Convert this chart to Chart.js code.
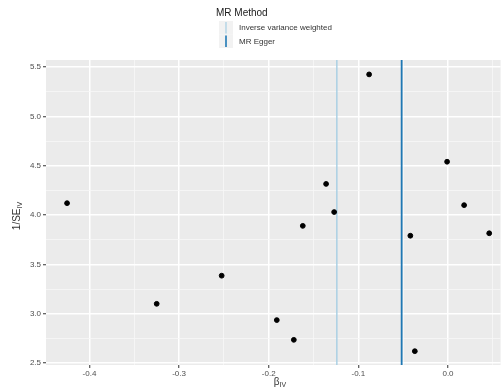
<!DOCTYPE html>
<html><head><meta charset="utf-8">
<script src="https://cdn.jsdelivr.net/npm/chart.js@4/dist/chart.umd.min.js"></script>
<style>html,body{margin:0;padding:0;background:#fff;}#wrap{width:504px;height:390px;}</style>
</head><body><div id="wrap"><canvas id="c" width="504" height="390"></canvas></div>
<script>
// Data
const betaIV = [-0.425, -0.325, -0.2525, -0.191, -0.172, -0.162, -0.136, -0.127, -0.088, -0.042, -0.037, -0.001, 0.018, 0.046];
const invSE  = [4.12, 3.10, 3.385, 2.935, 2.735, 3.89, 4.315, 4.03, 5.425, 3.79, 2.62, 4.54, 4.10, 3.815];
const methodNames = ["Inverse variance weighted", "MR Egger"];
const methodBeta = [-0.124, -0.0517];
const methodColors = ["#a6cee3", "#1f78b4"];
const xLimits = [-0.4485, 0.0587];
const yLimits = [2.48, 5.571];

const points = betaIV.map((b, i) => ({x: b, y: invSE[i]}));
const lineSets = methodNames.map((n, i) => ({
  type: 'line', label: n,
  data: [{x: methodBeta[i], y: yLimits[0]}, {x: methodBeta[i], y: yLimits[1]}],
  borderColor: methodColors[i], borderWidth: i === 0 ? 1.4 : 1.8,
  pointRadius: 0, fill: false, order: 2
}));

function isMajor(v, step) { const r = v / step; return Math.abs(r - Math.round(r)) < 1e-6; }

const bgPlugin = {
  id: 'panelbg',
  beforeDraw(chart) {
    const {ctx, chartArea: a} = chart;
    ctx.save(); ctx.fillStyle = '#ebebeb';
    ctx.fillRect(a.left, a.top, a.right - a.left, a.bottom - a.top);
    ctx.restore();
  },
  afterDraw(chart) {
    const ctx = chart.ctx;
    ctx.save();
    // legend
    ctx.fillStyle = '#1a1a1a';
    ctx.font = '10px "Liberation Sans", Arial, sans-serif';
    ctx.textBaseline = 'middle'; ctx.textAlign = 'left';
    ctx.fillText('MR Method', 216, 13);
    const keyX = 219, keyW = 14, keyTop = 21, keyH = 13.5;
    methodNames.forEach((n, i) => {
      const y0 = keyTop + i * keyH;
      ctx.fillStyle = '#f2f2f2';
      ctx.fillRect(keyX, y0, keyW, keyH);
      ctx.strokeStyle = methodColors[i];
      ctx.lineWidth = i === 0 ? 1.2 : 1.6;
      ctx.beginPath();
      ctx.moveTo(keyX + keyW / 2, y0 + 1); ctx.lineTo(keyX + keyW / 2, y0 + keyH - 1);
      ctx.stroke();
      ctx.fillStyle = '#333';
      ctx.font = '8px "Liberation Sans", Arial, sans-serif';
      ctx.fillText(n, 239, y0 + keyH / 2 + 0.5);
    });
    // x title
    ctx.fillStyle = '#333';
    ctx.font = '10px "Liberation Sans", Arial, sans-serif';
    ctx.textAlign = 'left';
    const bw = ctx.measureText('β').width;
    ctx.font = '7px "Liberation Sans", Arial, sans-serif';
    const sw = ctx.measureText('IV').width;
    let sx = 280 - (bw + sw) / 2;
    ctx.font = '10px "Liberation Sans", Arial, sans-serif';
    ctx.fillText('β', sx, 382);
    ctx.font = '7px "Liberation Sans", Arial, sans-serif';
    ctx.fillText('IV', sx + bw, 385);
    // y title
    ctx.translate(17, 216);
    ctx.rotate(-Math.PI / 2);
    ctx.font = '10px "Liberation Sans", Arial, sans-serif';
    const mw = ctx.measureText('1/SE').width;
    ctx.font = '7px "Liberation Sans", Arial, sans-serif';
    const iw = ctx.measureText('IV').width;
    const st = -(mw + iw) / 2;
    ctx.font = '10px "Liberation Sans", Arial, sans-serif';
    ctx.fillText('1/SE', st, 0);
    ctx.font = '7px "Liberation Sans", Arial, sans-serif';
    ctx.fillText('IV', st + mw, 3);
    ctx.restore();
  }
};

new Chart(document.getElementById('c'), {
  type: 'scatter',
  data: {
    datasets: [{
      label: 'SNPs', data: points, backgroundColor: '#000', borderColor: '#000',
      pointRadius: 2.4, pointHoverRadius: 2.4, order: 1
    }, ...lineSets]
  },
  options: {
    responsive: false, animation: false,
    layout: {padding: {top: 60, right: 0, left: 0, bottom: 0}},
    plugins: {legend: {display: false}, tooltip: {enabled: false}},
    scales: {
      x: {
        type: 'linear', min: xLimits[0], max: xLimits[1],
        afterFit(s) { s.height = 25; },
        border: {display: false},
        grid: {
          color: c => isMajor(c.tick.value, 0.1) ? '#ffffff' : '#f7f7f7',
          lineWidth: c => isMajor(c.tick.value, 0.1) ? 1.5 : 0.8,
          tickColor: c => isMajor(c.tick.value, 0.1) ? '#333333' : 'rgba(0,0,0,0)',
          tickLength: 3, tickWidth: 1
        },
        ticks: {
          stepSize: 0.05, includeBounds: false, autoSkip: false, maxRotation: 0,
          padding: 1, color: '#4d4d4d',
          font: {size: 8, family: '"Liberation Sans", Arial, sans-serif'},
          callback: v => isMajor(v, 0.1) ? (Math.abs(v) < 1e-9 ? '0.0' : v.toFixed(1)) : ''
        }
      },
      y: {
        type: 'linear', min: yLimits[0], max: yLimits[1],
        afterFit(s) { s.width = 46; },
        border: {display: false},
        grid: {
          color: c => isMajor(c.tick.value, 0.5) ? '#ffffff' : '#f7f7f7',
          lineWidth: c => isMajor(c.tick.value, 0.5) ? 1.5 : 0.8,
          tickColor: c => isMajor(c.tick.value, 0.5) ? '#333333' : 'rgba(0,0,0,0)',
          tickLength: 3, tickWidth: 1
        },
        ticks: {
          stepSize: 0.25, includeBounds: false, autoSkip: false,
          padding: 2, color: '#4d4d4d',
          font: {size: 8, family: '"Liberation Sans", Arial, sans-serif'},
          callback: v => isMajor(v, 0.5) ? v.toFixed(1) : ''
        }
      }
    }
  },
  plugins: [bgPlugin]
});
</script></body></html>
